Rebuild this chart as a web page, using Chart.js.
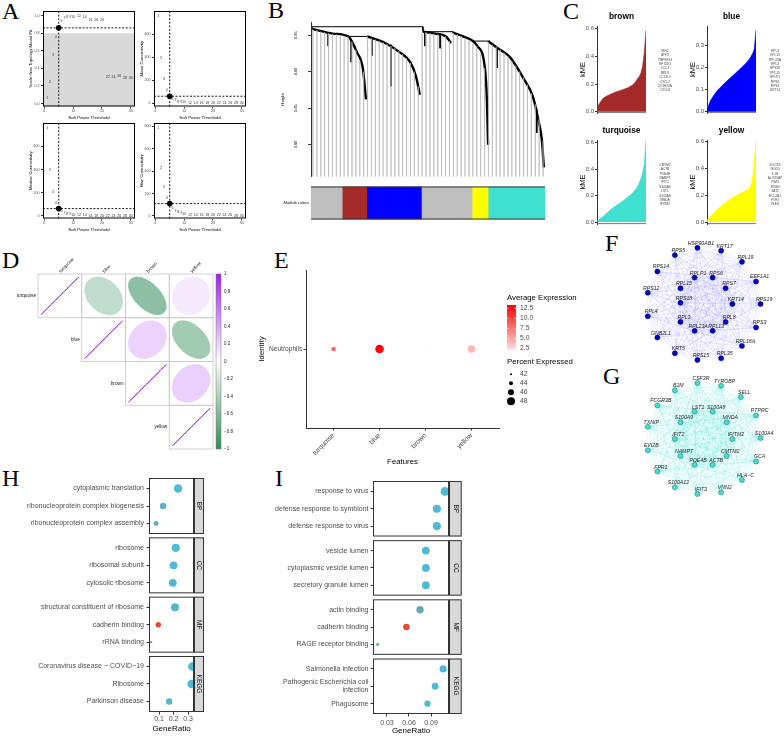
<!DOCTYPE html>
<html>
<head>
<meta charset="utf-8">
<title>WGCNA modules</title>
<script src="https://cdn.jsdelivr.net/npm/chart.js@4.4.1/dist/chart.umd.min.js"></script>
<style>
  html, body { margin: 0; padding: 0; background: #fff; }
  #fig { position: relative; width: 784px; height: 736px; overflow: hidden; }
  #fig canvas { position: absolute; }
  .tag { position: absolute; font-family: 'Liberation Serif', 'Times New Roman', serif; font-size: 24px; line-height: 24px; color: #000; }
</style>
</head>
<body>
<div id="fig">
  <div class="tag" style="left:2px;top:-1px">A</div>
  <div class="tag" style="left:268px;top:-2px">B</div>
  <div class="tag" style="left:563px;top:-1px">C</div>
  <div class="tag" style="left:2px;top:248px">D</div>
  <div class="tag" style="left:274px;top:248px">E</div>
  <div class="tag" style="left:605px;top:231px">F</div>
  <div class="tag" style="left:603px;top:364px">G</div>
  <div class="tag" style="left:2px;top:466px">H</div>
  <div class="tag" style="left:275px;top:466px">I</div>
</div>
<script>
// ---------------- data ----------------
// A: soft threshold selection
const softPower = [1, 2, 3, 4, 5, 6, 7, 8, 9, 10, 12, 14, 16, 18, 20, 22, 24, 26, 28, 30];
const scaleFreeFit = [0.06, 0.244, 0.556, 0.754, 0.861, 0.94, 0.972, 0.985, 0.99, 0.99, 0.995, 0.99, 0.946, 0.946, 0.955, 0.297, 0.297, 0.309, 0.286, 0.29];
const meanConn = [762, 395, 210, 115, 63, 43, 29, 17, 14, 11, 8, 6, 5, 4, 3.5, 3, 2.5, 2, 1.8, 1.5];
const medianConn = [762, 392, 205, 112, 63, 38, 25, 16, 12, 9, 6, 4, 3, 2.5, 2, 1.6, 1.3, 1.1, 1, 0.9];
const maxConn = [788, 430, 254, 161, 110, 66, 45, 32, 24, 18, 12, 9, 7, 6, 5, 4.5, 4, 3.5, 3, 3];
const chosenPower = 5;
const fitShadeTop = 0.8;

// B: gene dendrogram (leaf order, merge height)
const heightFloor = 0.7558, heightTop = 0.9677;
const leafTops = [0.958, 0.957, 0.955, 0.954, 0.953, 0.952, 0.951, 0.950, 0.949, 0.948,
  0.941, 0.930, 0.916, 0.900, 0.948, 0.946, 0.944, 0.942, 0.940, 0.938,
  0.935, 0.932, 0.928, 0.924, 0.918, 0.912, 0.900, 0.880, 0.955, 0.954,
  0.953, 0.952, 0.951, 0.950, 0.948, 0.942, 0.953, 0.951, 0.949, 0.946,
  0.942, 0.938, 0.935, 0.925, 0.905, 0.940, 0.937, 0.934, 0.930, 0.926,
  0.921, 0.915, 0.908, 0.900, 0.892, 0.882, 0.870, 0.855, 0.835, 0.805];
const branchGreyBrown = [[0.3, 0.9587], [5.6, 0.9522], [9.5, 0.9483], [11.8, 0.9264], [13.3, 0.9044], [14.1, 0.8618]];
const branchBlue = [[14.4, 0.9483], [19.0, 0.9393], [22.8, 0.9264], [25.4, 0.9134], [26.9, 0.894], [27.9, 0.8682]];
const branchGrey = [[28.7, 0.9548], [31.8, 0.9522], [34.6, 0.9483], [35.9, 0.9393]];
const branchYellow = [[36.4, 0.9535], [39.0, 0.9483], [42.6, 0.9354], [44.6, 0.9044], [45.1, 0.8618], [45.4, 0.7997]];
const branchTurquoise = [[45.4, 0.9419], [47.7, 0.9328], [51.0, 0.9199], [54.4, 0.8915], [56.9, 0.8656], [58.2, 0.8359], [59.2, 0.8062], [59.7, 0.7687]];
const treeJoins = [
  [[0.3, 0.9587], [0.3, 0.9616], [28.7, 0.9616], [28.7, 0.9548]],
  [[9.5, 0.9483], [14.4, 0.9483]],
  [[28.7, 0.9548], [36.4, 0.9548], [36.4, 0.9535]],
  [[41.5, 0.9419], [45.4, 0.9419]]
];
const treeTwigs = [[4.4, 0.952, 0.935], [10.3, 0.945, 0.913], [15.6, 0.946, 0.922], [20.5, 0.937, 0.880],
  [29.2, 0.955, 0.935], [33.1, 0.950, 0.932], [47.7, 0.933, 0.905], [57.9, 0.849, 0.816]];
const moduleOrder = ['grey', 'brown', 'blue', 'grey', 'yellow', 'turquoise'];
const moduleWidth = [8, 6.3, 14, 13, 4.1, 14.6];
const moduleHex = { grey: '#BEBEBE', brown: '#A52A2A', blue: '#0000FF', yellow: '#FFFF00', turquoise: '#40E0D0' };

// C: sorted kME per module
const kmeBrown = [0.02, 0.05, 0.07, 0.088, 0.10, 0.108, 0.115, 0.121, 0.127, 0.132, 0.137, 0.142, 0.146, 0.150, 0.154,
  0.158, 0.162, 0.167, 0.172, 0.178, 0.185, 0.193, 0.205, 0.22, 0.24, 0.255, 0.28, 0.33, 0.43, 0.59];
const kmeBlue = [0.005, 0.03, 0.05, 0.062, 0.074, 0.085, 0.095, 0.103, 0.111, 0.119, 0.127, 0.134, 0.141, 0.148, 0.155,
  0.162, 0.169, 0.176, 0.183, 0.19, 0.197, 0.204, 0.212, 0.22, 0.229, 0.238, 0.25, 0.264, 0.285, 0.37];
const kmeTurquoise = [0.005, 0.015, 0.026, 0.036, 0.045, 0.058, 0.07, 0.082, 0.093, 0.103, 0.113, 0.122, 0.131, 0.14, 0.148,
  0.157, 0.166, 0.175, 0.185, 0.196, 0.207, 0.22, 0.235, 0.25, 0.27, 0.295, 0.33, 0.37, 0.44, 0.62];
const kmeYellow = [0.01, 0.025, 0.04, 0.055, 0.068, 0.08, 0.092, 0.104, 0.116, 0.127, 0.137, 0.147, 0.156, 0.165, 0.173,
  0.18, 0.188, 0.195, 0.202, 0.209, 0.216, 0.222, 0.228, 0.235, 0.242, 0.25, 0.27, 0.33, 0.45, 0.62];
const hubBrown = ['IER2', 'ATF3', 'TNFSF14', 'SFT2D1', 'CCL3', 'BRD2', 'CCL3L3', 'CXCL2', 'ZC3H12A', 'CXCL8'];
const hubBlue = ['RPL3', 'RPL13', 'RPL23A', 'RPL4', 'RPS18', 'RPL15', 'RPLP1', 'RPS6', 'RPS3', 'KRT14'];
const hubTurquoise = ['CMTM2', 'ACTB', 'PDE4B', 'NAMPT', 'IFIT2', 'S100A9', 'LST1', 'S100A8', 'MNDA', 'IFITM2'];
const hubYellow = ['SOCS3', 'ISG20', 'IL1B', 'ALOX5AP', 'PIM3', 'SRGN', 'SAT1', 'BCL2A1', 'FTH1', 'PLEK'];

// D: module eigengene correlation
const modNames = ['turquoise', 'blue', 'brown', 'yellow'];
const modCor = [[1, -0.30, -0.55, 0.10], [-0.30, 1, 0.20, -0.45], [-0.55, 0.20, 1, 0.22], [0.10, -0.45, 0.22, 1]];
const corTicks = [1, 0.8, 0.6, 0.4, 0.2, 0, -0.2, -0.4, -0.6, -0.8, -1];

// E: module scores in neutrophils
const features = ['turquoise', 'blue', 'brown', 'yellow'];
const avgExpr = [8.2, 13.3, 2.1, 4.2];
const pctExpr = [44.6, 48.5, 41.2, 47.4];
const exprBreaks = [12.5, 10.0, 7.5, 5.0, 2.5];
const pctBreaks = [42, 44, 46, 48];

// F, G: hub gene networks (layout coordinates)
const netFx = [-0.12, 0.30, -0.52, 0.67, -0.83, -0.17, 0.15, 0.92, -0.42, 0.38, -1.00, -0.42, 0.50, 1.00, -1.00, -0.42, 0.38, 0.92, -0.17, 0.15, -0.83, 0.67, -0.52, -0.12, 0.30];
const netFy = [1.00, 0.95, 0.87, 0.75, 0.58, 0.47, 0.47, 0.40, 0.28, 0.28, 0.20, 0.02, 0.00, 0.00, -0.22, -0.32, -0.32, -0.42, -0.48, -0.48, -0.60, -0.75, -0.88, -1.00, -0.97];
const netFgenes = ['HSP90AB1', 'KRT17', 'RPS5', 'RPL19', 'RPS14', 'RPLP1', 'RPS6', 'EEF1A1', 'RPL15', 'RPS7', 'RPS12', 'RPS18', 'KRT14', 'RPS19', 'RPL4', 'RPL3', 'RPL8', 'RPS3', 'RPL23A', 'RPL13', 'GNB2L1', 'RPL18A', 'KRT5', 'RPS15', 'RPL35'];
const netGx = [-0.12, 0.30, -0.52, 0.65, -0.83, -0.17, 0.15, 0.92, -0.42, 0.40, -1.00, -0.52, 0.50, 1.00, -1.00, -0.42, 0.40, 0.92, -0.17, 0.15, -0.83, 0.67, -0.52, -0.12, 0.30];
const netGy = [0.98, 0.93, 0.85, 0.73, 0.58, 0.47, 0.47, 0.40, 0.28, 0.28, 0.20, -0.02, -0.02, 0.00, -0.22, -0.32, -0.32, -0.42, -0.48, -0.48, -0.60, -0.75, -0.88, -1.00, -0.97];
const netGgenes = ['CSF3R', 'TYROBP', 'B2M', 'SELL', 'FCGR3B', 'LST1', 'S100A8', 'PTPRC', 'S100A9', 'MNDA', 'TXNIP', 'IFIT2', 'IFITM2', 'S100A4', 'EVI2B', 'NAMPT', 'CMTM2', 'GCA', 'PDE4B', 'ACTB', 'FPR1', 'HLA\u2212C', 'S100A12', 'IFIT3', 'VNN2'];

// H, I: enrichment
const ontologies = ['BP', 'CC', 'MF', 'KEGG'];
const hTerms = ['cytoplasmic translation', 'ribonucleoprotein complex biogenesis', 'ribonucleoprotein complex assembly',
  'ribosome', 'ribosomal subunit', 'cytosolic ribosome',
  'structural constituent of ribosome', 'cadherin binding', 'rRNA binding',
  'Coronavirus disease \u2212 COVID\u221219', 'Ribosome', 'Parkinson disease'];
const hRatio = [0.231, 0.128, 0.080, 0.215, 0.200, 0.195, 0.210, 0.095, 0.045, 0.330, 0.325, 0.170];
const hCount = [66, 37, 23, 62, 58, 56, 60, 27, 13, 70, 69, 36];
const hPadj = [3.8e-12, 4.6e-12, 5.2e-12, 3.6e-12, 3.8e-12, 4.0e-12, 4.4e-12, 2.23e-11, 7.8e-12, 3.7e-12, 3.7e-12, 4.8e-12];
const hPadjBreaks = [2.0e-11, 1.5e-11, 1.0e-11, 5.0e-12];
const hCountBreaks = [20, 30, 40, 50, 60, 70];
const iTerms = ['response to virus', 'defense response to symbiont', 'defense response to virus',
  'vesicle lumen', 'cytoplasmic vesicle lumen', 'secretory granule lumen',
  'actin binding', 'cadherin binding', 'RAGE receptor binding',
  'Salmonella infection', 'Pathogenic Escherichia coli infection', 'Phagosome'];
const iRatio = [0.109, 0.098, 0.098, 0.083, 0.083, 0.083, 0.075, 0.0565, 0.0173, 0.1065, 0.0956, 0.0852];
const iCount = [37, 33, 33, 30, 30, 30, 26, 20, 6, 24, 22, 19];
const iPadj = [2e-6, 5e-6, 5e-6, 1e-5, 1e-5, 1e-5, 7.5e-4, 3.86e-3, 3e-4, 2e-5, 3e-5, 5e-5];
const iPadjBreaks = [0.003, 0.002, 0.001];
const iCountBreaks = [5, 10, 15, 20, 25, 30, 35];

// ---------------- helpers ----------------
const SANS = "'Liberation Sans', Arial, sans-serif";
Chart.defaults.animation = false;
Chart.defaults.responsive = false;
Chart.defaults.devicePixelRatio = 1;
Chart.defaults.font.family = SANS;
Chart.defaults.color = '#4d4d4d';
Chart.defaults.plugins.legend.display = false;
Chart.defaults.plugins.tooltip.enabled = false;
Chart.defaults.events = [];

const fig = document.getElementById('fig');
function canvasAt(x, y, w, h) {
  const c = document.createElement('canvas');
  c.width = w; c.height = h;
  c.style.left = x + 'px'; c.style.top = y + 'px';
  c.style.width = w + 'px'; c.style.height = h + 'px';
  fig.appendChild(c);
  return c;
}
const fixWidth = w => s => { s.width = w; };
const fixHeight = h => s => { s.height = h; };
const tickAt = vals => s => { s.ticks = vals.map(v => ({ value: v })); };
const fnt = (size, more) => Object.assign({ family: SANS, size: size }, more || {});
function hexRgb(h) { return [1, 3, 5].map(i => parseInt(h.substr(i, 2), 16)); }
function mix(c1, c2, t) {
  const a = hexRgb(c1), b = hexRgb(c2);
  t = Math.max(0, Math.min(1, t));
  return 'rgb(' + a.map((v, i) => Math.round(v + (b[i] - v) * t)).join(',') + ')';
}
function text(g, s, x, y, size, color, align, base, extra) {
  g.font = (extra || '') + ' ' + size + 'px ' + SANS;
  g.fillStyle = color; g.textAlign = align; g.textBaseline = base;
  g.fillText(s, x, y);
}
const minus = v => (Math.abs(v) < 1e-9 ? '0' : (v < 0 ? '\u2212' : '') + String(Math.abs(v)));

// ---------------- A ----------------
const framePlugin = { id: 'frame', afterDraw(c) {
  const a = c.chartArea, g = c.ctx;
  g.save(); g.strokeStyle = '#000'; g.lineWidth = 1;
  g.strokeRect(a.left + 0.5, a.top + 0.5, a.width - 1, a.height - 1); g.restore();
} };
function powerDecor(vals, shade) {
  return { id: 'powerDecor', beforeDatasetsDraw(c) {
    const { ctx: g, chartArea: a, scales: { x, y } } = c;
    g.save();
    if (shade !== null) {
      const yt = y.getPixelForValue(shade);
      g.fillStyle = '#d9d9d9'; g.fillRect(a.left, yt, a.width, a.bottom - yt);
    }
    softPower.forEach((p, i) => text(g, String(p), x.getPixelForValue(p), y.getPixelForValue(vals[i]), 3.6, '#333', 'center', 'middle'));
    const k = softPower.indexOf(chosenPower);
    const px = x.getPixelForValue(chosenPower), py = y.getPixelForValue(vals[k]);
    g.strokeStyle = '#000'; g.lineWidth = 0.9; g.setLineDash([2, 1.6]);
    g.beginPath(); g.moveTo(px, a.top); g.lineTo(px, a.bottom); g.moveTo(a.left, py); g.lineTo(a.right, py); g.stroke();
    g.restore();
  } };
}
function powerPanel(cx, cy, vals, yTitle, yMin, yMax, yTicks, digits, shade) {
  const k = softPower.indexOf(chosenPower);
  new Chart(canvasAt(cx, cy, 120, 122), {
    type: 'scatter',
    data: { datasets: [{ data: [{ x: chosenPower, y: vals[k] }], pointRadius: 2.8, backgroundColor: '#000', borderColor: '#000', borderWidth: 0 }] },
    options: {
      layout: { padding: { top: 6, right: 7 } },
      scales: {
        x: { type: 'linear', min: -0.45, max: 31.45, afterBuildTicks: tickAt([0, 10, 20, 30]), afterFit: fixHeight(20.5),
          grid: { drawOnChartArea: false, tickLength: 2, color: '#333' }, border: { display: false },
          ticks: { font: fnt(3.6), color: '#4d4d4d', padding: 0.5, maxRotation: 0, autoSkip: false },
          title: { display: true, text: 'Soft Power Threshold', font: fnt(4.3), color: '#000', padding: { top: 0, bottom: 6.5 } } },
        y: { min: yMin, max: yMax, afterBuildTicks: tickAt(yTicks), afterFit: fixWidth(21),
          grid: { drawOnChartArea: false, tickLength: 2, color: '#333' }, border: { display: false },
          ticks: { font: fnt(3.6), color: '#4d4d4d', padding: 1.5, autoSkip: false, callback: v => v.toFixed(digits) },
          title: { display: true, text: yTitle, font: fnt(4.3), color: '#000', padding: { top: 6, bottom: 0 } } }
      }
    },
    plugins: [powerDecor(vals, shade), framePlugin]
  });
}
powerPanel(22, 5, scaleFreeFit, 'Scale\u2212free Topology Model Fit', -0.034, 1.053, [0, 0.2, 0.4, 0.6, 0.8, 1], 1, fitShadeTop);
powerPanel(133, 5, meanConn, 'Mean Connectivity', -26, 801, [0, 200, 400, 600], 0, null);
powerPanel(22, 117, medianConn, 'Median Connectivity', -22.5, 801, [0, 200, 400, 600], 0, null);
powerPanel(133, 117, maxConn, 'Max Connectivity', -23.4, 830, [0, 200, 400, 600, 800], 0, null);

// ---------------- B ----------------
const leafLines = [];
leafTops.forEach((h, i) => { leafLines.push({ x: i + 0.5, y: h }, { x: i + 0.5, y: heightFloor }, { x: i + 0.5, y: null }); });
const twigLines = [];
treeTwigs.forEach(([p, t, b]) => { twigLines.push({ x: p, y: t }, { x: p, y: b }, { x: p, y: null }); });
const toXY = arr => arr.map(([x, y]) => ({ x: x, y: y }));
new Chart(canvasAt(270, 12, 280, 175), {
  type: 'scatter',
  data: { datasets: [
    { data: leafLines, showLine: true, spanGaps: false, borderColor: '#b5b5b5', borderWidth: 0.5, pointRadius: 0 },
    ...[branchGreyBrown, branchBlue, branchGrey, branchYellow, branchTurquoise].map(b => ({
      data: toXY(b), showLine: true, borderColor: '#000', borderWidth: 2.4, pointRadius: 0, cubicInterpolationMode: 'monotone' })),
    ...treeJoins.map(j => ({ data: toXY(j), showLine: true, borderColor: '#000', borderWidth: 1, pointRadius: 0 })),
    { data: twigLines, showLine: true, spanGaps: false, borderColor: '#000', borderWidth: 1, pointRadius: 0 }
  ] },
  options: {
    layout: { padding: { top: 6, right: 5, bottom: 5 } },
    scales: {
      x: { type: 'linear', min: 0, max: 60, display: false },
      y: { min: heightFloor, max: heightTop, afterFit: fixWidth(41), afterBuildTicks: tickAt([0.80, 0.85, 0.90, 0.95]),
        grid: { drawOnChartArea: false, tickLength: 3, color: '#000', lineWidth: 0.8 }, border: { color: '#000', width: 0.8 },
        ticks: { font: fnt(3.8), color: '#000', minRotation: 90, maxRotation: 90, crossAlign: 'center', padding: 8, autoSkip: false, callback: v => v.toFixed(2) },
        title: { display: true, text: 'Height', font: fnt(4.3), color: '#000', padding: { top: 10, bottom: 0 } } }
    }
  }
});
new Chart(canvasAt(270, 182, 280, 42), {
  type: 'bar',
  data: { labels: ['Module colors'], datasets: moduleOrder.map((m, i) => ({
    data: [moduleWidth[i]], backgroundColor: moduleHex[m], borderWidth: 0, barPercentage: 1, categoryPercentage: 1 })) },
  options: {
    indexAxis: 'y',
    layout: { padding: { top: 1, right: 5, bottom: 4 } },
    scales: {
      x: { stacked: true, min: 0, max: 60, display: false },
      y: { stacked: true, afterFit: fixWidth(41), grid: { display: false, drawTicks: false }, border: { display: false },
        ticks: { font: fnt(4.1), color: '#000', padding: 2 } }
    }
  },
  plugins: [{ id: 'barEdge', afterDatasetsDraw(c) {
    const a = c.chartArea, g = c.ctx;
    g.save(); g.strokeStyle = '#333'; g.lineWidth = 1; g.beginPath();
    g.moveTo(a.left, a.top + 0.5); g.lineTo(a.right, a.top + 0.5);
    g.moveTo(a.left, a.bottom - 0.5); g.lineTo(a.right, a.bottom - 0.5);
    g.stroke(); g.restore();
  } }]
});

// ---------------- C ----------------
function kmeDecor(title, genes) {
  return { id: 'kmeDecor', afterDraw(c) {
    const { ctx: g, chartArea: a } = c;
    g.save();
    g.strokeStyle = '#555'; g.lineWidth = 0.8; g.beginPath(); g.moveTo(a.left, a.bottom - 0.4); g.lineTo(a.right, a.bottom - 0.4); g.stroke();
    text(g, title, (a.left + a.right) / 2, a.top - 9, 8.3, '#000', 'center', 'middle', 'bold');
    genes.forEach((s, i) => text(g, s, a.right + 19, a.top + 25 + i * 4.4, 3.2, '#444', 'center', 'middle'));
    g.restore();
  } };
}
function kmePanel(cx, cy, areaH, title, vals, color, yMin, yMax, yTicks, genes) {
  new Chart(canvasAt(cx, cy, 100, 18 + areaH + 5), {
    type: 'line',
    data: { labels: vals.map((_, i) => i), datasets: [{ data: vals, fill: 'origin', backgroundColor: color, borderColor: color, borderWidth: 0.6, pointRadius: 0 }] },
    options: {
      layout: { padding: { top: 18, right: 32, bottom: 5 } },
      scales: {
        x: { type: 'category', offset: false, display: false },
        y: { min: yMin, max: yMax, afterBuildTicks: tickAt(yTicks), afterFit: fixWidth(19),
          grid: { drawOnChartArea: false, tickLength: 2, color: '#333' }, border: { color: '#333', width: 1 },
          ticks: { font: fnt(6), color: '#4d4d4d', padding: 1, autoSkip: false, callback: v => v.toFixed(1) },
          title: { display: true, text: 'kME', font: fnt(7.5), color: '#000', padding: 0 } }
      }
    },
    plugins: [kmeDecor(title, genes)]
  });
}
kmePanel(578, 8, 87.3, 'brown', kmeBrown, '#A52A2A', -0.0094, 0.6194, [0, 0.2, 0.4, 0.6], hubBrown);
kmePanel(688, 8, 87.3, 'blue', kmeBlue, '#0000FF', -0.006, 0.389, [0, 0.1, 0.2, 0.3], hubBlue);
kmePanel(578, 122, 84, 'turquoise', kmeTurquoise, '#40E0D0', -0.0151, 0.6204, [0, 0.2, 0.4, 0.6], hubTurquoise);
kmePanel(688, 122, 84, 'yellow', kmeYellow, '#FFFF00', -0.0149, 0.6127, [0, 0.2, 0.4, 0.6], hubYellow);

// ---------------- D ----------------
const corNeg = '#2E8B57', corPos = '#A020F0';
const corColor = r => (r >= 0 ? mix('#FFFFFF', corPos, r) : mix('#FFFFFF', corNeg, -r));
const corrDecor = { id: 'corrDecor', afterDraw(c) {
  const { ctx: g, chartArea: a, scales: { x, y, y2 } } = c;
  const n = modNames.length;
  g.save();
  for (let i = 0; i < n; i++) {
    for (let j = i; j < n; j++) {
      const x0 = x.getPixelForValue(j), x1 = x.getPixelForValue(j + 1);
      const y0 = y.getPixelForValue(i), y1 = y.getPixelForValue(i + 1);
      g.strokeStyle = '#c8c8c8'; g.lineWidth = 0.8; g.strokeRect(x0, y0, x1 - x0, y1 - y0);
      const cx = (x0 + x1) / 2, cy = (y0 + y1) / 2, s = 0.43 * (x1 - x0), r = modCor[i][j], d = Math.acos(r);
      g.beginPath();
      for (let t = 0; t <= 360; t += 4) {
        const th = t * Math.PI / 180;
        const px = cx + s * Math.cos(th + d / 2), py = cy - s * Math.cos(th - d / 2);
        if (t === 0) g.moveTo(px, py); else g.lineTo(px, py);
      }
      g.closePath();
      g.fillStyle = corColor(r); g.strokeStyle = corColor(r); g.lineWidth = 0.9;
      g.fill(); g.stroke();
    }
    text(g, modNames[i], x.getPixelForValue(i) - 2, y.getPixelForValue(i + 0.5), 4.7, '#222', 'right', 'middle');
    g.save();
    g.translate(x.getPixelForValue(i + 0.5), y.getPixelForValue(0) - 2);
    g.rotate(-Math.PI / 4);
    text(g, modNames[i], 0, 0, 4.7, '#222', 'left', 'middle');
    g.restore();
  }
  const bx0 = x.getPixelForValue(4.069), bx1 = a.right;
  const by0 = y2.getPixelForValue(1), by1 = y2.getPixelForValue(-1);
  const grad = g.createLinearGradient(0, by0, 0, by1);
  grad.addColorStop(0, corPos); grad.addColorStop(0.5, '#FFFFFF'); grad.addColorStop(1, corNeg);
  g.fillStyle = grad; g.fillRect(bx0, by0, bx1 - bx0, by1 - by0);
  g.strokeStyle = '#777'; g.lineWidth = 0.5; g.strokeRect(bx0, by0, bx1 - bx0, by1 - by0);
  g.restore();
} };
new Chart(canvasAt(0, 255, 245, 200), {
  type: 'scatter',
  data: { datasets: [] },
  options: {
    layout: { padding: { left: 38, top: 19, bottom: 6 } },
    scales: {
      x: { display: false, min: 0, max: 4.183 },
      y: { display: false, min: 0, max: 4, reverse: true },
      y2: { position: 'right', min: -1, max: 1, afterBuildTicks: tickAt(corTicks), afterFit: fixWidth(24),
        grid: { display: false, drawTicks: false }, border: { display: false },
        ticks: { font: fnt(4.5), color: '#222', padding: 3, autoSkip: false, callback: v => minus(v) } }
    }
  },
  plugins: [corrDecor]
});

// ---------------- E ----------------
const exprLo = Math.min(...avgExpr), exprHi = Math.max(...avgExpr);
const exprColor = v => mix('#FFE0E0', '#FF0000', (v - exprLo) / (exprHi - exprLo));
const dotR = p => Math.max(0.5, (p - 40) / 2);
const exprLegend = { id: 'exprLegend', afterDraw(c) {
  const { ctx: g, chartArea: a } = c;
  const x0 = a.right + 8, top = a.top;
  g.save();
  text(g, 'Average Expression', x0, top + 28, 7.8, '#000', 'left', 'middle');
  const b0 = top + 35, b1 = top + 80;
  const grad = g.createLinearGradient(0, b1, 0, b0);
  grad.addColorStop(0, exprColor(exprLo)); grad.addColorStop(1, exprColor(exprHi));
  g.fillStyle = grad; g.fillRect(x0, b0, 9, b1 - b0);
  exprBreaks.forEach(v => {
    const yy = b1 - (v - exprLo) / (exprHi - exprLo) * (b1 - b0);
    g.strokeStyle = '#fff'; g.lineWidth = 0.6; g.beginPath();
    g.moveTo(x0, yy); g.lineTo(x0 + 1.8, yy); g.moveTo(x0 + 7.2, yy); g.lineTo(x0 + 9, yy); g.stroke();
    text(g, v.toFixed(1), x0 + 13, yy, 6.8, '#4d4d4d', 'left', 'middle');
  });
  text(g, 'Percent Expressed', x0, top + 92, 7.8, '#000', 'left', 'middle');
  pctBreaks.forEach((p, i) => {
    const yy = top + 104.3 + i * 9;
    g.fillStyle = '#000'; g.beginPath(); g.arc(x0 + 4, yy, dotR(p), 0, Math.PI * 2); g.fill();
    text(g, String(p), x0 + 13, yy, 6.8, '#4d4d4d', 'left', 'middle');
  });
  g.restore();
} };
new Chart(canvasAt(257, 262, 345, 210), {
  type: 'bubble',
  data: { datasets: [{ data: features.map((_, i) => ({ x: i + 1, y: 1, r: dotR(pctExpr[i]) })), backgroundColor: avgExpr.map(exprColor), borderWidth: 0 }] },
  options: {
    layout: { padding: { top: 8, right: 103 } },
    scales: {
      x: { min: 0.4, max: 4.6, afterBuildTicks: tickAt([1, 2, 3, 4]), afterFit: fixHeight(44),
        grid: { drawOnChartArea: false, tickLength: 2.5, color: '#333' }, border: { color: '#333', width: 1 },
        ticks: { font: fnt(6.8), color: '#4d4d4d', padding: 1, minRotation: 45, maxRotation: 45, autoSkip: false, callback: (v, k) => features[k] },
        title: { display: true, text: 'Features', font: fnt(7.8), color: '#000', padding: { top: 0, bottom: 5.5 } } },
      y: { min: 0.4, max: 1.6, afterBuildTicks: tickAt([1]), afterFit: fixWidth(49),
        grid: { drawOnChartArea: false, tickLength: 2.5, color: '#333' }, border: { color: '#333', width: 1 },
        ticks: { font: fnt(6.6), color: '#4d4d4d', padding: 1.2, autoSkip: false, callback: () => 'Neutrophils' },
        title: { display: true, text: 'Identity', font: fnt(7.8), color: '#000', padding: { top: 0, bottom: 0 } } }
    }
  },
  plugins: [exprLegend]
});

// ---------------- F, G ----------------
function netDecor(xs, ys, genes, edge) {
  return { id: 'netDecor',
    beforeDatasetsDraw(c) {
      const { ctx: g, scales: { x, y } } = c;
      g.save(); g.strokeStyle = edge; g.lineWidth = 0.5; g.beginPath();
      for (let i = 0; i < xs.length; i++) {
        for (let j = i + 1; j < xs.length; j++) {
          g.moveTo(x.getPixelForValue(xs[i]), y.getPixelForValue(ys[i]));
          g.lineTo(x.getPixelForValue(xs[j]), y.getPixelForValue(ys[j]));
        }
      }
      g.stroke(); g.restore();
    },
    afterDatasetsDraw(c) {
      const { ctx: g, scales: { x, y } } = c;
      g.save();
      genes.forEach((s, i) => text(g, s, x.getPixelForValue(xs[i]) + 3.5, y.getPixelForValue(ys[i]) - 4.5, 5.2, '#222', 'center', 'middle', 'italic'));
      g.restore();
    } };
}
function network(top, xs, ys, genes, fill, line, edge) {
  new Chart(canvasAt(630, top, 154, 142), {
    type: 'scatter',
    data: { datasets: [{ data: xs.map((v, i) => ({ x: v, y: ys[i] })), pointRadius: 2.5, backgroundColor: fill, borderColor: line, borderWidth: 0.6 }] },
    options: {
      layout: { padding: 0 },
      scales: { x: { display: false, min: -1.2333, max: 1.3333 }, y: { display: false, min: -1.1667, max: 1.2 } }
    },
    plugins: [netDecor(xs, ys, genes, edge)]
  });
}
network(232, netFx, netFy, netFgenes, '#0000CD', '#00007a', 'rgba(80,80,255,0.16)');
network(366, netGx, netGy, netGgenes, '#40E0D0', '#2a7f76', 'rgba(64,224,208,0.28)');

// ---------------- H, I ----------------
const padjLow = '#4DBBD5', padjHigh = '#E64B35';
function wrapText(s, width) {
  const out = []; let line = '';
  s.split(' ').forEach(w => {
    if (line && (line + ' ' + w).length > width) { out.push(line); line = w; }
    else line = line ? line + ' ' + w : w;
  });
  out.push(line);
  return out.length > 1 ? out : s;
}
function facetDecor(o, step) {
  return { id: 'facetDecor', afterDraw(c) {
    const { ctx: g, chartArea: a, scales: { y } } = c;
    g.save();
    ontologies.forEach((name, p) => {
      const t = y.getPixelForValue(p * step), b = y.getPixelForValue(p * step + 3.2);
      g.strokeStyle = '#333'; g.lineWidth = 1;
      g.strokeRect(a.left + 0.5, t + 0.5, a.width - 1, b - t - 1);
      g.fillStyle = '#d9d9d9'; g.fillRect(a.right, t, o.stripW, b - t);
      g.strokeRect(a.right + 0.5, t + 0.5, o.stripW - 1, b - t - 1);
      g.save(); g.translate(a.right + o.stripW / 2, (t + b) / 2); g.rotate(Math.PI / 2);
      text(g, name, 0, 0, 6.5, '#1a1a1a', 'center', 'middle'); g.restore();
    });
    const L = o.legend, lo = Math.min(...o.padj), hi = Math.max(...o.padj);
    text(g, 'P adj', L.x, L.titleY, 7, '#000', 'left', 'middle');
    const grad = g.createLinearGradient(0, L.barBottom, 0, L.barTop);
    grad.addColorStop(0, padjLow); grad.addColorStop(1, padjHigh);
    g.fillStyle = grad; g.fillRect(L.x, L.barTop, 8, L.barBottom - L.barTop);
    o.padjBreaks.forEach(v => {
      const yy = L.barBottom - (v - lo) / (hi - lo) * (L.barBottom - L.barTop);
      g.strokeStyle = '#fff'; g.lineWidth = 0.6; g.beginPath();
      g.moveTo(L.x, yy); g.lineTo(L.x + 1.6, yy); g.moveTo(L.x + 6.4, yy); g.lineTo(L.x + 8, yy); g.stroke();
      text(g, o.padjFmt(v), L.x + 11.5, yy, 6.3, '#4d4d4d', 'left', 'middle');
    });
    text(g, 'Counts', L.x, L.countsY, 7, '#000', 'left', 'middle');
    o.countBreaks.forEach((v, i) => {
      const yy = L.circleY + i * L.circleStep;
      g.beginPath(); g.arc(L.x + 4, yy, o.size(v), 0, Math.PI * 2);
      g.fillStyle = '#d9d9d9'; g.fill(); g.strokeStyle = '#333'; g.lineWidth = 0.8; g.stroke();
      text(g, String(v), L.x + 12.5, yy, 6.3, '#4d4d4d', 'left', 'middle');
    });
    g.restore();
  } };
}
function enrichPanel(o) {
  const step = 3.2 + o.gap;
  const rowPos = o.terms.map((_, k) => Math.floor(k / 3) * step + 0.6 + (k % 3));
  const lo = Math.min(...o.padj), hi = Math.max(...o.padj);
  const labels = o.terms.map(t => (o.wrap ? wrapText(t, o.wrap) : t));
  new Chart(canvasAt(o.box[0], o.box[1], o.box[2], o.box[3]), {
    type: 'bubble',
    data: { datasets: [{ data: o.terms.map((_, k) => ({ x: o.ratio[k], y: rowPos[k], r: o.size(o.count[k]) })),
      backgroundColor: o.padj.map(p => mix(padjLow, padjHigh, (p - lo) / (hi - lo))), borderWidth: 0 }] },
    options: {
      layout: { padding: o.pad },
      scales: {
        x: { min: o.xMin, max: o.xMax, afterBuildTicks: tickAt(o.xTicks), afterFit: fixHeight(o.xH),
          grid: { drawOnChartArea: false, tickLength: 2.5, color: '#333' }, border: { display: false },
          ticks: { font: fnt(7), color: '#4d4d4d', padding: o.xPad, maxRotation: 0, autoSkip: false, callback: v => v.toFixed(o.xDigits) },
          title: { display: true, text: 'GeneRatio', font: fnt(8), color: '#000', padding: { top: 0, bottom: o.titlePad } } },
        y: { min: 0, max: 4 * 3.2 + 3 * o.gap, reverse: true, afterBuildTicks: tickAt(rowPos), afterFit: fixWidth(o.yW),
          grid: { drawOnChartArea: false, tickLength: 2.5, color: '#333' }, border: { display: false },
          ticks: { font: fnt(7), color: '#4d4d4d', padding: o.yPad, autoSkip: false, callback: (v, k) => labels[k] } }
      }
    },
    plugins: [facetDecor(o, step)]
  });
}
enrichPanel({
  box: [0, 470, 262, 266], pad: { top: 8, right: 68 }, yW: 149, xH: 24, gap: 0.19, stripW: 10,
  terms: hTerms, ratio: hRatio, count: hCount, padj: hPadj, wrap: 0,
  xMin: 0.031, xMax: 0.341, xTicks: [0.1, 0.2, 0.3], xDigits: 1, xPad: 0, titlePad: 2.9, yPad: 2.5,
  size: c => 1.2 + Math.sqrt(Math.max(0, c - 13) / 57) * 3.1,
  padjBreaks: hPadjBreaks, padjFmt: v => v.toExponential(1).replace('-', '\u2212').replace('+', ''),
  countBreaks: hCountBreaks,
  legend: { x: 210, titleY: 540.5, barTop: 546, barBottom: 587, countsY: 597, circleY: 605, circleStep: 8.3 }
});
enrichPanel({
  box: [262, 470, 240, 266], pad: { top: 11, right: 53 }, yW: 111, xH: 22, gap: 0.211, stripW: 12.7,
  terms: iTerms, ratio: iRatio, count: iCount, padj: iPadj, wrap: 30,
  xMin: 0.011, xMax: 0.1145, xTicks: [0.03, 0.06, 0.09], xDigits: 2, xPad: 2.6, titlePad: 0, yPad: 2,
  size: c => 1.0 + Math.sqrt(Math.max(0, c - 5) / 32) * 3.3,
  padjBreaks: iPadjBreaks, padjFmt: v => v.toFixed(3),
  countBreaks: iCountBreaks,
  legend: { x: 465, titleY: 539, barTop: 544, barBottom: 585, countsY: 594, circleY: 602.7, circleStep: 8.38 }
});
</script>
</body>
</html>
